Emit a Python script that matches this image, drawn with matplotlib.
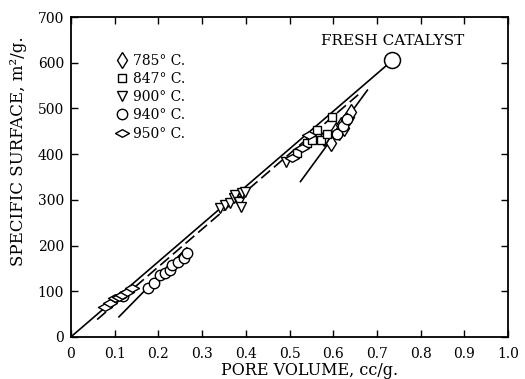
import numpy as np
from matplotlib import pyplot as plt
from matplotlib.path import Path

plt.rcParams['font.family'] = ['DejaVu Serif']

# data: pore volume (cc/g) vs specific surface (m2/g)
x785 = [0.579, 0.594, 0.606, 0.613, 0.617, 0.625, 0.628, 0.636, 0.640]
y785 = [435, 424, 453, 449, 464, 457, 475, 482, 493]

x847 = [0.518, 0.539, 0.552, 0.563, 0.571, 0.585, 0.598]
y847 = [402, 424, 431, 453, 431, 445, 482]

x900 = [0.342, 0.353, 0.365, 0.372, 0.376, 0.384, 0.388, 0.392, 0.399, 0.493]
y900 = [282, 289, 293, 303, 311, 296, 285, 314, 318, 383]

x940 = [0.120, 0.177, 0.189, 0.204, 0.215, 0.227, 0.231, 0.246, 0.258, 0.265, 0.608, 0.622, 0.632]
y940 = [90, 106, 117, 136, 140, 147, 158, 165, 172, 183, 445, 462, 478]

x950 = [0.078, 0.089, 0.101, 0.109, 0.116, 0.128, 0.139, 0.506, 0.529, 0.544]
y950 = [66, 74, 85, 88, 92, 99, 106, 391, 413, 442]

fresh_x, fresh_y = 0.735, 605

# trend lines (end points)
main_x, main_y = [0, fresh_x], [0, fresh_y]
dash_x, dash_y = [0.06, 0.657], [38, 530]
fit940_x, fit940_y = [0.11, 0.265], [44, 195]
fit785_x, fit785_y = [0.525, 0.678], [340, 540]

labels = ['785° C.', '847° C.', '900° C.', '940° C.', '950° C.']

wide_diamond = Path([(-1, 0), (0, 0.55), (1, 0), (0, -0.55), (-1, 0)],
                    [Path.MOVETO, Path.LINETO, Path.LINETO, Path.LINETO, Path.CLOSEPOLY])

fig = plt.figure(figsize=(5.25, 3.79), dpi=100)
ax = fig.add_axes([0.135, 0.111, 0.833, 0.844])

lw = 1.2
ax.plot(main_x, main_y, color='black', lw=lw, zorder=2)
ax.plot(dash_x, dash_y, color='black', lw=lw, ls=(0, (7, 3)), zorder=2)
ax.plot(fit940_x, fit940_y, color='black', lw=lw, zorder=2)
ax.plot(fit785_x, fit785_y, color='black', lw=lw, zorder=2)

style = dict(ls='none', mfc='white', mec='black', mew=1.0, zorder=3)
h1, = ax.plot(x785, y785, marker='d', ms=8.5, label=labels[0], **style)
h2, = ax.plot(x847, y847, marker='s', ms=6, label=labels[1], **style)
h3, = ax.plot(x900, y900, marker='v', ms=7.5, label=labels[2], **style)
h4, = ax.plot(x940, y940, marker='o', ms=7.5, label=labels[3], **style)
h5, = ax.plot(x950, y950, marker=wide_diamond, ms=10, label=labels[4], **style)

ax.plot([fresh_x], [fresh_y], marker='o', ms=11.5, ls='none', mfc='white',
        mec='black', mew=1.1, zorder=4)
ax.text(fresh_x, 648, 'FRESH CATALYST', ha='center', va='center', fontsize=11)

ax.legend(handles=[h1, h2, h3, h4, h5], loc='upper left', bbox_to_anchor=(0.1, 0.885),
          frameon=False, borderpad=0, handlelength=1.1, handletextpad=0.2,
          labelspacing=0.3, fontsize=10, borderaxespad=0)

ax.set_xlim(0, 1.0)
ax.set_ylim(0, 700)
ax.set_xticks(np.arange(0, 1.01, 0.1))
ax.set_xticklabels(['0', '0.1', '0.2', '0.3', '0.4', '0.5', '0.6', '0.7', '0.8', '0.9', '1.0'])
ax.set_yticks(np.arange(0, 701, 100))
ax.tick_params(direction='in', length=5, width=1, top=True, right=True, labelsize=10)
ax.tick_params(axis='x', pad=7)
ax.tick_params(axis='y', pad=5)
for s in ax.spines.values():
    s.set_linewidth(1.3)

ax.set_xlabel('PORE VOLUME, cc/g.', fontsize=11.5)
ax.xaxis.set_label_coords(0.546, -0.078)
ax.set_ylabel('SPECIFIC SURFACE, m²/g.', fontsize=12)
ax.yaxis.set_label_coords(-0.1, 0.58)

fig.savefig('out.png', dpi=100)
